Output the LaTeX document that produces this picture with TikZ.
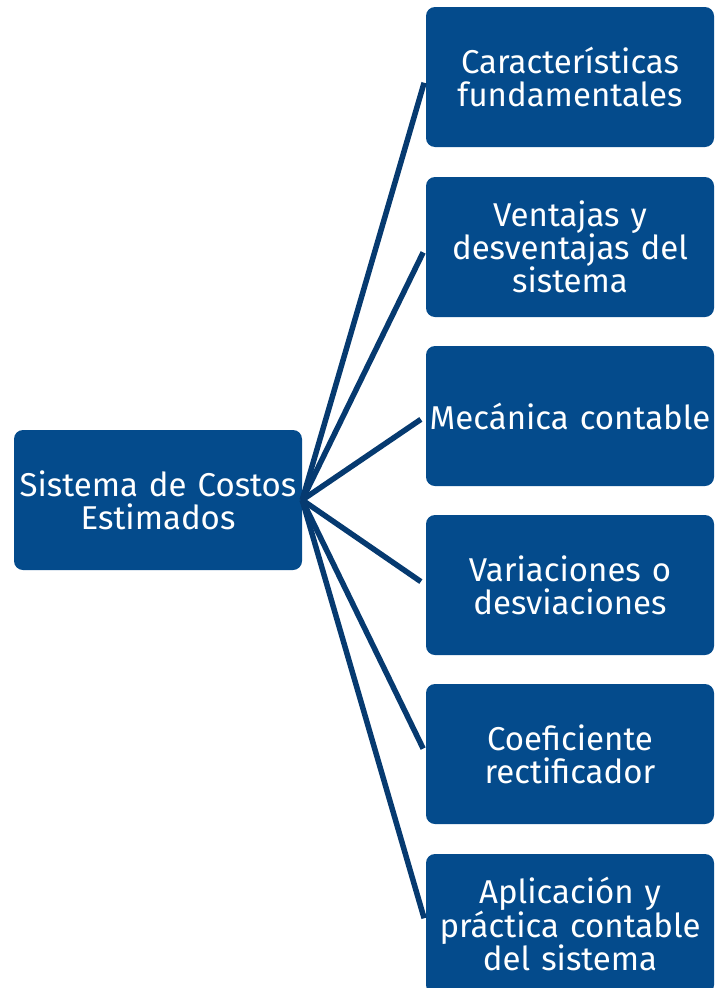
\documentclass[tikz,border=0pt]{standalone}
\usepackage{fontspec}
\setmainfont{Fira Sans}[Scale=1]
\definecolor{boxblue}{RGB}{4,75,140}
\definecolor{lineblue}{RGB}{6,58,112}
\begin{document}
\begin{tikzpicture}[x=1pt,y=-1pt,
  bluebox/.style={rectangle, rounded corners=9pt, fill=boxblue, draw=none,
    minimum width=288pt, minimum height=140pt, text width=288pt, align=center,
    inner sep=0pt, text=white, font=\fontsize{33}{33}\selectfont},
  link/.style={draw=lineblue, line width=5.5pt, shorten >=6pt}]
\useasboundingbox (0,0) rectangle (716,988);
\node[bluebox] (c) at (158,500) {Sistema de Costos\\Estimados};
\node[bluebox] (b1) at (570,77) {Características\\fundamentales};
\node[bluebox] (b2) at (570,247) {Ventajas y\\desventajas del\\sistema};
\node[bluebox] (b3) at (570,416) {Mecánica contable};
\node[bluebox] (b4) at (570,585) {Variaciones o\\desviaciones};
\node[bluebox] (b5) at (570,754) {Coeficiente\\rectificador};
\node[bluebox] (b6) at (570,924) {Aplicación y\\práctica contable\\del sistema};
\foreach \b in {b1,b2,b3,b4,b5,b6}
  \draw[link] (c.east) -- (\b.west);
\end{tikzpicture}
\end{document}
